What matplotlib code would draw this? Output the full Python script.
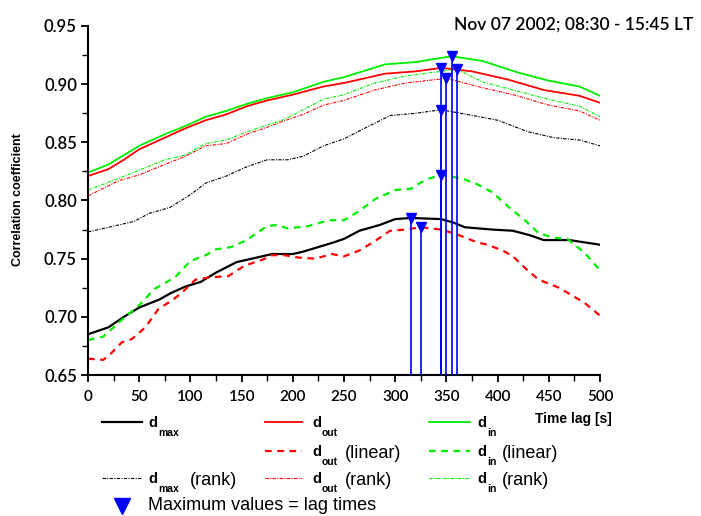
import numpy as np
import matplotlib
matplotlib.use('Agg')
import matplotlib.pyplot as plt
from matplotlib.lines import Line2D
from matplotlib.ticker import MultipleLocator, FormatStrFormatter

# d_in  (green, solid)
t_in = [0, 20, 35, 50, 75, 95, 115, 135, 155, 175, 200, 230, 250, 290, 320,
        355, 385, 420, 450, 480, 500]
r_in = [0.824, 0.831, 0.839, 0.847, 0.857, 0.864, 0.872, 0.877, 0.883, 0.888,
        0.893, 0.902, 0.906, 0.917, 0.919, 0.924, 0.920, 0.910, 0.903, 0.898, 0.890]

# d_out (red, solid)
t_out = [0, 20, 35, 50, 75, 95, 115, 135, 155, 175, 200, 230, 250, 290, 320,
         345, 375, 410, 445, 480, 500]
r_out = [0.821, 0.827, 0.835, 0.844, 0.854, 0.862, 0.869, 0.874, 0.881, 0.886,
         0.891, 0.898, 0.901, 0.909, 0.911, 0.914, 0.911, 0.904, 0.895, 0.890, 0.884]

# d_in (rank)
t_in_rank = [0, 30, 50, 75, 95, 115, 135, 155, 175, 190, 210, 230, 250, 280,
             310, 345, 360, 385, 415, 450, 480, 500]
r_in_rank = [0.809, 0.819, 0.826, 0.835, 0.839, 0.849, 0.852, 0.859, 0.865,
             0.869, 0.878, 0.887, 0.891, 0.901, 0.907, 0.911, 0.913, 0.902,
             0.895, 0.887, 0.881, 0.872]

# d_out (rank)
t_out_rank = [0, 30, 50, 75, 95, 115, 135, 155, 175, 190, 210, 230, 250, 280,
              310, 350, 385, 415, 450, 480, 500]
r_out_rank = [0.804, 0.817, 0.822, 0.831, 0.838, 0.847, 0.849, 0.857, 0.863,
              0.868, 0.874, 0.882, 0.886, 0.895, 0.901, 0.905, 0.897, 0.891,
              0.882, 0.877, 0.869]

# d_max (rank)
t_max_rank = [0, 20, 45, 60, 80, 100, 115, 135, 155, 175, 195, 210, 230, 250,
              270, 295, 320, 345, 370, 400, 430, 455, 480, 500]
r_max_rank = [0.773, 0.777, 0.782, 0.789, 0.794, 0.805, 0.815, 0.821, 0.829,
              0.835, 0.835, 0.838, 0.847, 0.853, 0.862, 0.873, 0.875, 0.878,
              0.874, 0.869, 0.859, 0.854, 0.852, 0.847]

# d_max
t_max = [0, 20, 35, 50, 70, 80, 95, 110, 125, 145, 165, 180, 200, 210, 225, 240,
         250, 265, 285, 300, 315, 345, 357, 368, 395, 415, 432, 445, 470, 500]
r_max = [0.685, 0.691, 0.700, 0.708, 0.715, 0.720, 0.726, 0.730, 0.738, 0.747,
         0.751, 0.754, 0.754, 0.756, 0.760, 0.764, 0.767, 0.774, 0.779, 0.784,
         0.785, 0.784, 0.781, 0.777, 0.775, 0.774, 0.770, 0.766, 0.766, 0.762]

# d_in (linear)
t_in_lin = [0, 15, 25, 35, 50, 65, 85, 100, 115, 125, 140, 155, 165, 175, 185,
            195, 215, 235, 250, 265, 280, 300, 315, 330, 345, 365, 380, 395,
            410, 428, 440, 455, 468, 485, 500]
r_in_lin = [0.680, 0.683, 0.691, 0.699, 0.710, 0.724, 0.734, 0.748, 0.753,
            0.758, 0.760, 0.766, 0.772, 0.778, 0.779, 0.776, 0.778, 0.783,
            0.783, 0.791, 0.801, 0.809, 0.810, 0.818, 0.822, 0.819, 0.814,
            0.807, 0.795, 0.782, 0.772, 0.768, 0.767, 0.755, 0.740]

# d_out (linear)
t_out_lin = [0, 15, 23, 33, 43, 56, 69, 82, 92, 105, 120, 137, 153, 170, 180,
             192, 205, 222, 238, 250, 265, 280, 295, 310, 325, 345, 360, 380,
             390, 405, 415, 428, 440, 460, 485, 500]
r_out_lin = [0.664, 0.663, 0.669, 0.678, 0.681, 0.691, 0.707, 0.714, 0.721,
             0.732, 0.734, 0.735, 0.744, 0.749, 0.753, 0.753, 0.751, 0.750,
             0.754, 0.752, 0.757, 0.765, 0.774, 0.775, 0.777, 0.775, 0.771,
             0.764, 0.762, 0.757, 0.752, 0.741, 0.732, 0.725, 0.712, 0.701]

# maxima = lag times
lag_times = [315, 325, 345, 345, 345, 350, 355, 360]
peak_values = [0.785, 0.777, 0.914, 0.878, 0.822, 0.905, 0.924, 0.913]

RED = '#ff0000'
GREEN = '#00ee00'
BLUE = '#0000ff'
rank_dash = (0, (3, 1.2, 1, 1.2))
lin_dash = (0, (3, 2.5))

W, H = 701, 516
fig = plt.figure(figsize=(W / 100, H / 100), dpi=100)
ax = fig.add_axes([88 / W, 1 - 375 / H, 512 / W, 349 / H])

ax.plot(t_max, r_max, color='black', lw=1.6)
ax.plot(t_out, r_out, color=RED, lw=1.3)
ax.plot(t_in, r_in, color=GREEN, lw=1.3)
ax.plot(t_out_lin, r_out_lin, color=RED, lw=1.6, ls=lin_dash)
ax.plot(t_in_lin, r_in_lin, color=GREEN, lw=1.6, ls=lin_dash)
ax.plot(t_max_rank, r_max_rank, color='black', lw=0.8, ls=rank_dash)
ax.plot(t_out_rank, r_out_rank, color=RED, lw=0.8, ls=rank_dash)
ax.plot(t_in_rank, r_in_rank, color=GREEN, lw=0.8, ls=rank_dash)

ax.vlines(lag_times, 0.65, peak_values, color=BLUE, lw=1.2, zorder=4)
ax.plot(lag_times, peak_values, 'v', color=BLUE, ms=7, zorder=5)

ax.set_xlim(0, 500)
ax.set_ylim(0.65, 0.95)
ax.spines['top'].set_visible(False)
ax.spines['right'].set_visible(False)
for s in ['left', 'bottom']:
    ax.spines[s].set_linewidth(1.5)
ax.xaxis.set_major_locator(MultipleLocator(50))
ax.xaxis.set_minor_locator(MultipleLocator(25))
ax.yaxis.set_major_locator(MultipleLocator(0.05))
ax.yaxis.set_minor_locator(MultipleLocator(0.025))
ax.yaxis.set_major_formatter(FormatStrFormatter('%.2f'))
ax.tick_params(which='major', direction='out', length=5, width=1.3)
ax.tick_params(which='minor', direction='out', length=4, width=1.0)
ax.tick_params(axis='x', labelsize=11, pad=6)
ax.tick_params(axis='y', labelsize=12, pad=3)
for lab in ax.get_xticklabels() + ax.get_yticklabels():
    lab.set_family('Lato')
    lab.set_fontweight('semibold')

fig.text(693 / W, 1 - 25 / H, 'Nov 07 2002; 08:30 - 15:45 LT',
         ha='right', va='center', fontsize=12.5, family='Lato',
         fontweight='semibold')
fig.text(18 / W, 1 - 200 / H, 'Correlation coefficient', rotation=90,
         ha='center', va='center', fontsize=9, family='Liberation Sans',
         fontweight='bold')
fig.text(612 / W, 1 - 419 / H, 'Time lag [s]', ha='right', va='center',
         fontsize=10, family='Liberation Sans', fontweight='bold')

# legend, laid out like the original (d bold with subscript, rest plain)
col_line = [(102, 142), (265, 302), (429, 470)]
col_d = [148, 312, 477]
col_sub = ['max', 'out', 'in']
col_color = ['black', RED, GREEN]
row_y = [422, 451, 478]
row_style = [dict(lw=1.6, ls='-'), dict(lw=1.6, ls=lin_dash),
             dict(lw=0.8, ls=rank_dash)]
row_suffix = ['', '(linear)', '(rank)']
suffix_x = [190, 345, 502]

for c in range(3):
    for r in range(3):
        if c == 0 and r == 1:
            continue
        y = row_y[r]
        lw = row_style[r]['lw']
        if r == 0 and c > 0:
            lw = 1.3
        fig.add_artist(Line2D([col_line[c][0] / W, col_line[c][1] / W],
                              [1 - y / H, 1 - y / H], color=col_color[c],
                              lw=lw, ls=row_style[r]['ls'],
                              transform=fig.transFigure))
        fig.text(col_d[c] / W, 1 - (y + 5) / H, 'd', fontsize=10.5,
                 family='Liberation Sans', fontweight='bold', va='baseline')
        fig.text((col_d[c] + 10) / W, 1 - (y + 14) / H, col_sub[c],
                 fontsize=7.5, family='Liberation Sans', fontweight='bold',
                 va='baseline')
        if row_suffix[r]:
            fig.text(suffix_x[c] / W, 1 - (y + 7) / H, row_suffix[r],
                     fontsize=13, family='Liberation Sans', va='baseline')

fig.add_artist(Line2D([122 / W], [1 - 506 / H], marker='v', color=BLUE,
                      ms=11, ls='none', transform=fig.transFigure))
fig.text(148 / W, 1 - 505 / H, 'Maximum values = lag times', fontsize=13,
         family='Liberation Sans', va='center')

fig.savefig('out.png', dpi=100)
